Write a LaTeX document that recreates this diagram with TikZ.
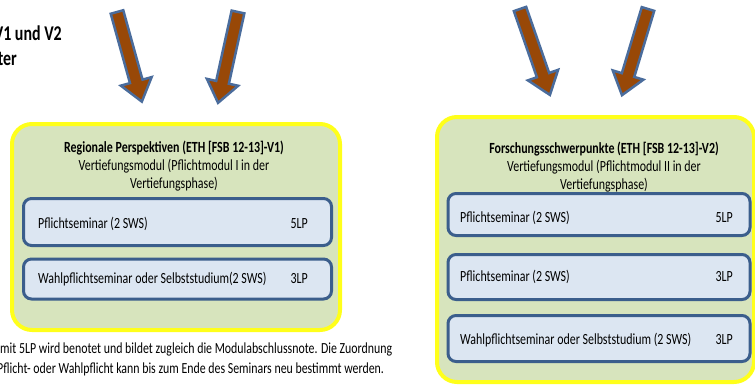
\documentclass[tikz,border=0pt]{standalone}
\usepackage{fontspec}
\setmainfont{Carlito}[FakeStretch=0.77]
\newfontfamily\headfont{Carlito}[FakeStretch=0.76]
\definecolor{yellowc}{HTML}{FFFF1A}
\definecolor{greenc}{HTML}{D7E4BD}
\definecolor{lightblue}{HTML}{DCE6F2}
\definecolor{bluec}{HTML}{3B5E8C}
\definecolor{arrowfill}{HTML}{984807}
\definecolor{arrowborder}{HTML}{4A6C9C}
\begin{document}
\begin{tikzpicture}[x=1pt,y=-1pt,
  outerbox/.style={draw=yellowc, fill=greenc, line width=4pt, rounded corners=20pt, inner sep=0pt},
  innerbox/.style={draw=bluec, fill=lightblue, line width=3pt, rounded corners=8pt, inner sep=0pt},
  arrowsty/.style={draw=arrowborder, fill=arrowfill, line width=2.5pt, line join=miter},
  itemtext/.style={font=\fontsize{15.5}{17}\selectfont, anchor=west, inner sep=0pt},
  lptext/.style={font=\fontsize{15.5}{17}\selectfont, anchor=east, inner sep=0pt},
  titletext/.style={font=\fontsize{15.5}{18}\selectfont, align=center, inner sep=0pt},
  bodytext/.style={font=\fontsize{15.4}{17}\selectfont, anchor=west, inner sep=0pt},
  headtext/.style={font=\headfont\fontsize{21}{23}\selectfont\bfseries, anchor=east, inner sep=0pt},
  pics/barrow/.style={code={\draw[arrowsty] (0,6.5) -- ({#1-21},6.5) -- ({#1-21},16) -- (#1,0) -- ({#1-21},-16) -- ({#1-21},-6.5) -- (0,-6.5) -- cycle;}}
]
\useasboundingbox (0,0) rectangle (755,388);
\clip (0,0) rectangle (755,388);

% heading fragments
\node[headtext] (h1) at (62,33) {V1 und V2};
\node[headtext] (h2) at (17,59) {ter};

% arrows
\pic[rotate=-74.5] at (117,12) {barrow=93};
\pic[rotate=-102.4] at (238,12) {barrow=93};
\pic[rotate=-70.8] at (520,9) {barrow=91};
\pic[rotate=-106.8] at (648,9) {barrow=90};

% left module
\node[outerbox, minimum width=328pt, minimum height=206pt] (L) at (176,227) {};
\node[titletext] (Lt) at (174,166) {\textbf{Regionale Perspektiven (ETH [FSB 12-13]-V1)}\\Vertiefungsmodul (Pflichtmodul I in der\\Vertiefungsphase)};
\node[innerbox, minimum width=308pt, minimum height=47pt] (L1) at (177.5,222) {};
\node[innerbox, minimum width=308pt, minimum height=40pt] (L2) at (177.5,279) {};
\node[itemtext] (L1a) at (38,224) {Pflichtseminar (2 SWS)};
\node[lptext] (L1b) at (308,224) {5LP};
\node[itemtext] (L2a) at (38,279) {Wahlpflichtseminar oder Selbststudium(2 SWS)};
\node[lptext] (L2b) at (308,279) {3LP};

% right module
\node[outerbox, minimum width=317pt, minimum height=265pt] (R) at (595.5,249.5) {};
\node[titletext] (Rt) at (604,167) {\textbf{Forschungsschwerpunkte (ETH [FSB 12-13]-V2)}\\Vertiefungsmodul (Pflichtmodul II in der\\Vertiefungsphase)};
\node[innerbox, minimum width=302pt, minimum height=42pt] (R1) at (599,214.5) {};
\node[innerbox, minimum width=302pt, minimum height=45pt] (R2) at (599,277) {};
\node[innerbox, minimum width=302pt, minimum height=46pt] (R3) at (599,338.5) {};
\node[itemtext] (R1a) at (460,218) {Pflichtseminar (2 SWS)};
\node[lptext] (R1b) at (733,218) {5LP};
\node[itemtext] (R2a) at (460,277) {Pflichtseminar (2 SWS)};
\node[lptext] (R2b) at (733,277) {3LP};
\node[itemtext] (R3a) at (460,340) {Wahlpflichtseminar oder Selbststudium (2 SWS)};
\node[lptext] (R3b) at (733,340) {3LP};

% footnote
\node[bodytext] (f1) at (0,349) {mit 5LP wird benotet und bildet zugleich die Modulabschlussnote. Die Zuordnung};
\node[bodytext] (f2) at (-3,369) {Pflicht- oder Wahlpflicht kann bis zum Ende des Seminars neu bestimmt werden.};
\end{tikzpicture}
\end{document}
